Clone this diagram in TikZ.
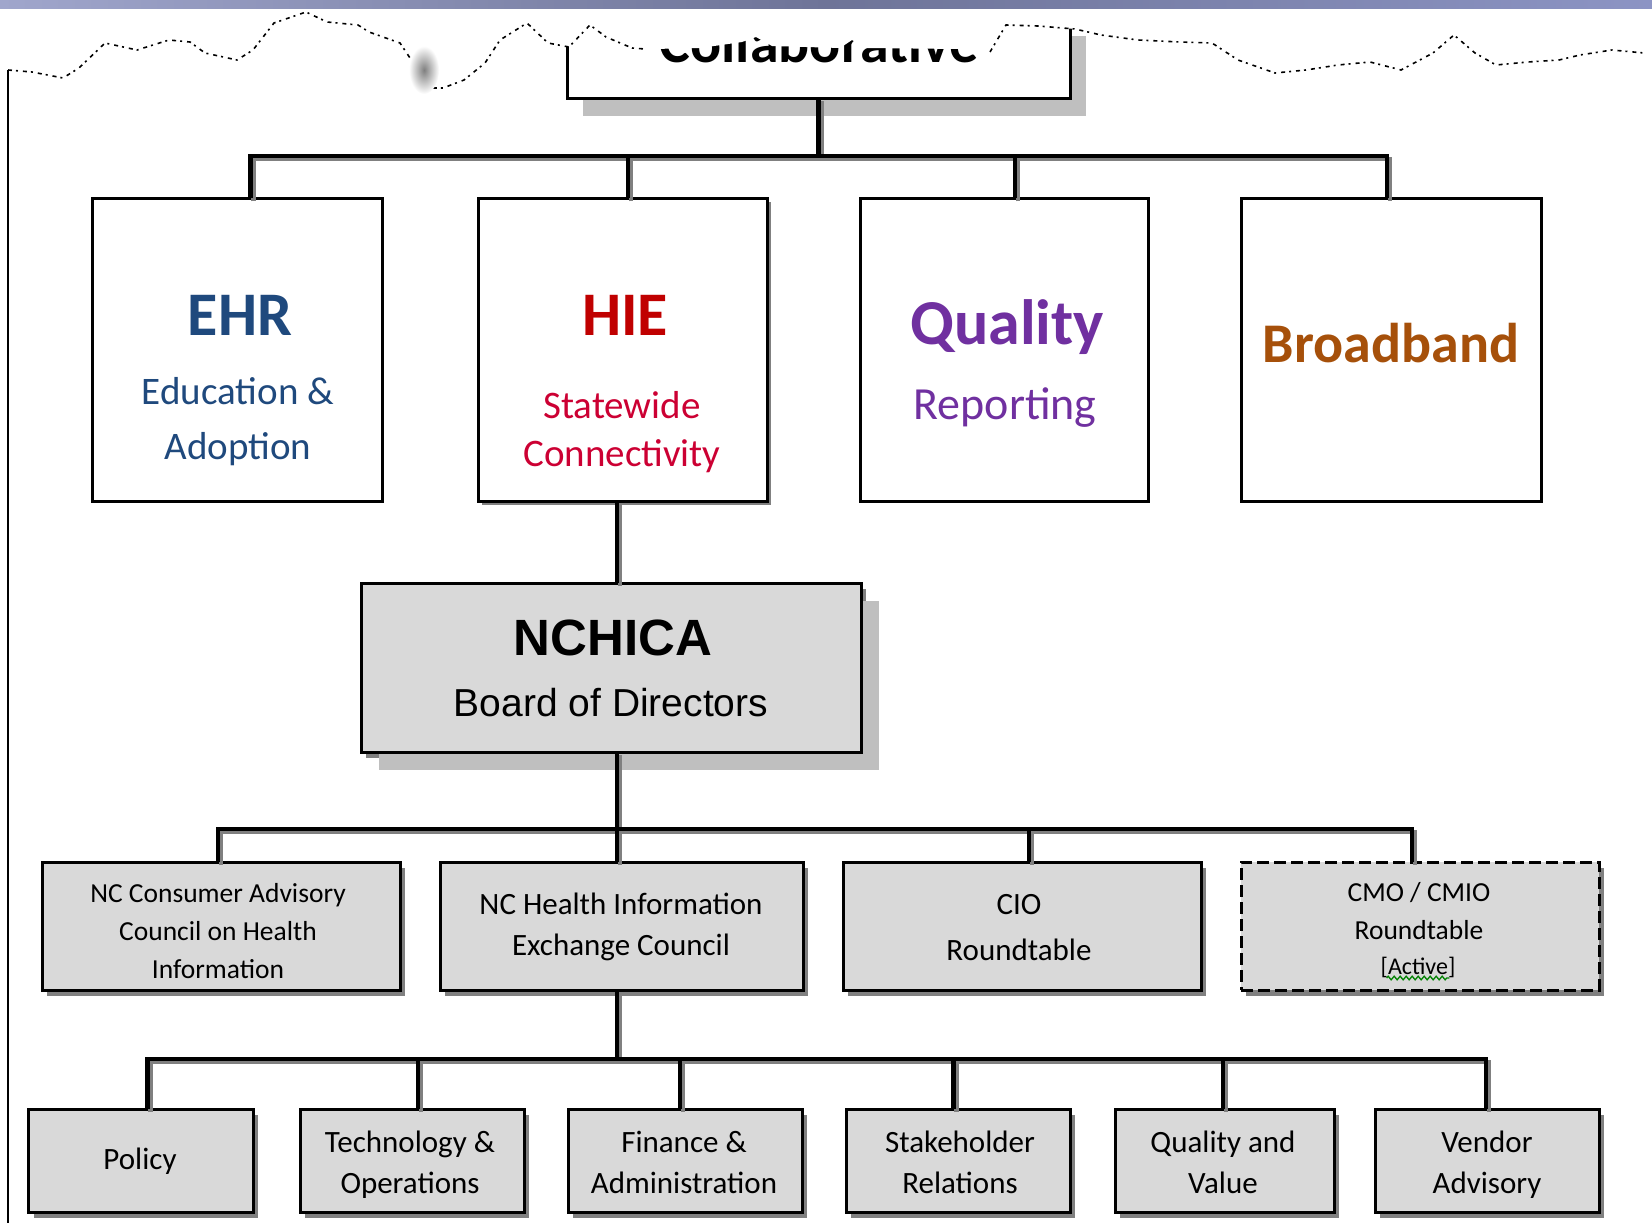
\documentclass[tikz,border=0pt]{standalone}
\usepackage{fontspec}
\setmainfont{Carlito}
\newfontfamily\arialfont{Liberation Sans}
\usetikzlibrary{shadows,decorations.pathmorphing}

\definecolor{ehrblue}{RGB}{31,73,125}
\definecolor{hiered}{RGB}{192,0,0}
\definecolor{hiesub}{RGB}{204,0,51}
\definecolor{qualpurple}{RGB}{112,48,160}
\definecolor{bandbrown}{RGB}{166,80,10}
\definecolor{boxgray}{RGB}{217,217,217}
\definecolor{shadowdark}{RGB}{128,128,128}
\definecolor{shadowlight}{RGB}{191,191,191}
\definecolor{grammargreen}{RGB}{0,128,0}
\definecolor{bandleft}{RGB}{160,166,204}
\definecolor{bandmid}{RGB}{110,116,152}
\definecolor{bandright}{RGB}{140,148,196}

\tikzset{
  tierbox/.style={draw=black, line width=3pt, fill=white, inner sep=0pt, outer sep=0pt},
  graybox/.style={draw=black, line width=3pt, fill=boxgray, inner sep=0pt, outer sep=0pt,
    drop shadow={shadow xshift=5pt, shadow yshift=-6pt, fill=shadowdark, opacity=1}},
  bigshadow/.style={drop shadow={shadow xshift=18pt, shadow yshift=-18pt, fill=shadowlight, opacity=1}},
  lbl/.style={anchor=base, inner sep=0pt, outer sep=0pt},
  conn/.style={line width=4.5pt, line join=miter, draw=black},
  connshade/.style={line width=4.5pt, line join=miter, draw=shadowdark,
    transform canvas={xshift=3pt, yshift=-3pt}},
  torn/.style={line width=1.6pt, draw=black, dash pattern=on 4pt off 4pt on 2pt off 5pt},
}

\newcommand{\fsz}[1]{\fontsize{#1}{#1}\selectfont}

\begin{document}
\begin{tikzpicture}[x=1pt,y=-1pt]
\useasboundingbox (0,0) rectangle (1652,1223);

% ---------- top governing box (cut by torn edge) ----------
\node[tierbox, minimum width=503pt, minimum height=80pt,
  drop shadow={shadow xshift=16pt, shadow yshift=-18pt, fill=shadowlight, opacity=1}]
  (topbox) at (818.5,58) {};
\node[lbl, font=\fsz{58}\bfseries] (topT) at (819,63) {Collaborative};

% ---------- torn paper edge: white above the wavy line ----------
\fill[white] (0,9) -- (0,70) -- (8,70) -- (32,72) -- (63,78) -- (79,68) -- (105,43)
  -- (137,50) -- (169,40) -- (190,42) -- (205,53) -- (237,60) -- (253,50) -- (274,23)
  -- (306,12) -- (327,22) -- (358,25) -- (369,32) -- (400,43) -- (416,67) -- (427,88)
  -- (443,88) -- (464,80) -- (485,63) -- (500,40) -- (527,23) -- (548,43) -- (569,47)
  -- (590,25) -- (606,37) -- (632,48) -- (653,49) -- (700,48) -- (742,42) -- (756,37)
  -- (772,46) -- (840,48) -- (852,40) -- (866,48) -- (960,49) -- (990,52) -- (1006,25)
  -- (1038,26) -- (1075,29) -- (1101,35) -- (1138,40) -- (1180,42) -- (1212,43) -- (1238,60)
  -- (1275,73) -- (1306,70) -- (1338,65) -- (1370,62) -- (1401,70) -- (1433,53)
  -- (1454,35) -- (1475,53) -- (1496,65) -- (1528,62) -- (1559,60) -- (1580,55)
  -- (1612,50) -- (1652,53) -- (1652,9) -- cycle;
\draw[torn] (8,70) -- (32,72) -- (63,78) -- (79,68) -- (105,43)
  -- (137,50) -- (169,40) -- (190,42) -- (205,53) -- (237,60) -- (253,50) -- (274,23)
  -- (306,12) -- (327,22) -- (358,25) -- (369,32) -- (400,43) -- (416,67) -- (427,88)
  -- (443,88) -- (464,80) -- (485,63) -- (500,40) -- (527,23) -- (548,43) -- (569,47)
  -- (590,25) -- (606,37) -- (632,48) -- (645,49);
\draw[torn] (990,52) -- (1006,25) -- (1038,26)
  -- (1075,29) -- (1101,35) -- (1138,40) -- (1180,42) -- (1212,43) -- (1238,60)
  -- (1275,73) -- (1306,70) -- (1338,65) -- (1370,62) -- (1401,70) -- (1433,53)
  -- (1454,35) -- (1475,53) -- (1496,65) -- (1528,62) -- (1559,60) -- (1580,55)
  -- (1612,50) -- (1644,53);
\shade[inner color=black!50, outer color=white] (424,70) ellipse (15pt and 24pt);

% window band along the top
\shade[left color=bandleft, right color=bandright, middle color=bandmid] (0,0) rectangle (1652,9);

% left page edge
\draw[line width=2pt] (8.4,70) -- (8.4,1223);

% ---------- first tier ----------
\node[tierbox, minimum width=290pt, minimum height=303pt] (ehr) at (237.6,349.8) {};
\node[tierbox, minimum width=289pt, minimum height=303pt,
  drop shadow={shadow xshift=4pt, shadow yshift=-4pt, fill=shadowdark, opacity=1}]
  (hie) at (622.5,349.8) {};
\node[tierbox, minimum width=288pt, minimum height=303pt] (qual) at (1004,349.8) {};
\node[tierbox, minimum width=300pt, minimum height=303pt] (bro) at (1391,349.8) {};

\node[lbl, text=ehrblue, font=\fsz{62}\bfseries] (ehrT1) at (240,335) {EHR};
\node[lbl, text=ehrblue, font=\fsz{39}] (ehrT2) at (238,404.5) {Education \&};
\node[lbl, text=ehrblue, font=\fsz{39}] (ehrT3) at (238,459) {Adoption};

\node[lbl, text=hiered, font=\fsz{62}\bfseries] (hieT1) at (625,335) {HIE};
\node[lbl, text=hiesub, font=\fsz{39}] (hieT2) at (622,418) {Statewide};
\node[lbl, text=hiesub, font=\fsz{39}] (hieT3) at (622,466) {Connectivity};

\node[lbl, text=qualpurple, font=\fsz{64}\bfseries] (qualT1) at (1007,344.5) {Quality};
\node[lbl, text=qualpurple, font=\fsz{46}] (qualT2) at (1005,419) {Reporting};

\node[lbl, text=bandbrown, font=\fsz{56}\bfseries] (broT) at (1391,362.5) {Broadband};

% ---------- NCHICA board ----------
\node[graybox, bigshadow, minimum width=500pt, minimum height=169pt] (board) at (611,667.5) {};
\node[lbl, font=\arialfont\fsz{51}\bfseries] (boardT1) at (613,655) {NCHICA};
\node[lbl, font=\arialfont\fsz{39}] (boardT2) at (611,716.5) {Board of Directors};

% ---------- second tier ----------
\node[graybox, minimum width=358pt, minimum height=128pt] (cons) at (221,926) {};
\node[graybox, minimum width=363pt, minimum height=128pt] (hiec) at (621.5,926) {};
\node[graybox, minimum width=358pt, minimum height=128pt] (cio) at (1022,926) {};
\node[graybox, minimum width=358pt, minimum height=128pt, dash pattern=on 12pt off 5pt] (cmo) at (1420,926) {};

\node[lbl, font=\fsz{27.5}] (consT1) at (218,902) {NC Consumer Advisory};
\node[lbl, font=\fsz{27.5}] (consT2) at (218,940) {Council on Health};
\node[lbl, font=\fsz{27.5}] (consT3) at (218,978) {Information};

\node[lbl, font=\fsz{31}] (hiecT1) at (621,914.5) {NC Health Information};
\node[lbl, font=\fsz{31}] (hiecT2) at (621,955.6) {Exchange Council};

\node[lbl, font=\fsz{31}] (cioT1) at (1019,914.5) {CIO};
\node[lbl, font=\fsz{31}] (cioT2) at (1019,960) {Roundtable};

\node[lbl, font=\fsz{27.5}] (cmoT1) at (1419,901) {CMO / CMIO};
\node[lbl, font=\fsz{27.5}] (cmoT2) at (1419,939) {Roundtable};
\node[lbl, font=\fsz{24}] (cmoT3) at (1418,974) {[Active]};
\draw[grammargreen, line width=1.3pt, decorate,
  decoration={zigzag, segment length=6pt, amplitude=1.8pt}]
  ([yshift=-4pt,xshift=6pt]cmoT3.base west) -- ([yshift=-4pt,xshift=-6pt]cmoT3.base east);

% ---------- third tier ----------
\node[graybox, minimum width=224.5pt, minimum height=103pt] (pol) at (140.75,1160.5) {};
\node[graybox, minimum width=224pt, minimum height=103pt] (tech) at (412,1160.5) {};
\node[graybox, minimum width=234pt, minimum height=103pt] (fin) at (685,1160.5) {};
\node[graybox, minimum width=224pt, minimum height=103pt] (stake) at (958,1160.5) {};
\node[graybox, minimum width=219pt, minimum height=103pt] (qv) at (1224.5,1160.5) {};
\node[graybox, minimum width=224pt, minimum height=103pt] (vend) at (1487,1160.5) {};

\node[lbl, font=\fsz{31}] (polT) at (140,1169.5) {Policy};
\node[lbl, font=\fsz{31}] (techT1) at (410,1152.6) {Technology \&};
\node[lbl, font=\fsz{31}] (techT2) at (410,1193.7) {Operations};
\node[lbl, font=\fsz{31}] (finT1) at (684,1152.6) {Finance \&};
\node[lbl, font=\fsz{31}] (finT2) at (684,1193.7) {Administration};
\node[lbl, font=\fsz{31}] (stakeT1) at (960,1152.6) {Stakeholder};
\node[lbl, font=\fsz{31}] (stakeT2) at (960,1193.7) {Relations};
\node[lbl, font=\fsz{31}] (qvT1) at (1223,1152.6) {Quality and};
\node[lbl, font=\fsz{31}] (qvT2) at (1223,1193.7) {Value};
\node[lbl, font=\fsz{31}] (vendT1) at (1487,1152.6) {Vendor};
\node[lbl, font=\fsz{31}] (vendT2) at (1487,1193.7) {Advisory};

% ---------- connectors ----------
\coordinate (busA) at (0,156);
\coordinate (busB) at (0,829);
\coordinate (busC) at (0,1059);

\coordinate (ehrIn) at ([xshift=13pt]ehr.north);
\coordinate (hieIn) at ([xshift=5.5pt]hie.north);
\coordinate (qualIn) at ([xshift=11pt]qual.north);
\coordinate (broIn) at ([xshift=-4pt]bro.north);
\coordinate (hieOut) at ([xshift=-5.5pt]hie.south);
\coordinate (boardIn) at ([xshift=6pt]board.north);
\coordinate (boardOut) at ([xshift=6pt]board.south);
\coordinate (consIn) at ([xshift=-3pt]cons.north);
\coordinate (hiecIn) at ([xshift=-4.5pt]hiec.north);
\coordinate (hiecOut) at ([xshift=-4.5pt]hiec.south);
\coordinate (cioIn) at ([xshift=7pt]cio.north);
\coordinate (cmoIn) at ([xshift=-8pt]cmo.north);
\coordinate (polIn) at ([xshift=6.75pt]pol.north);
\coordinate (techIn) at ([xshift=6pt]tech.north);
\coordinate (finIn) at ([xshift=-5pt]fin.north);
\coordinate (stakeIn) at ([xshift=-4.5pt]stake.north);
\coordinate (qvIn) at ([xshift=-1.5pt]qv.north);
\coordinate (vendIn) at ([xshift=-1pt]vend.north);

\foreach \sty in {connshade, conn} {
  % top box to first tier
  \draw[\sty] (topbox.south) -- (topbox.south |- busA);
  \draw[\sty] (ehrIn) -- (ehrIn |- busA) -- (broIn |- busA) -- (broIn);
  \draw[\sty] (hieIn) -- (hieIn |- busA);
  \draw[\sty] (qualIn) -- (qualIn |- busA);
  % HIE to the board
  \draw[\sty] (hieOut) -- (boardIn);
  % board to second tier
  \draw[\sty] (boardOut) -- (boardOut |- busB);
  \draw[\sty] (consIn) -- (consIn |- busB) -- (cmoIn |- busB) -- (cmoIn);
  \draw[\sty] (hiecIn) -- (hiecIn |- busB);
  \draw[\sty] (cioIn) -- (cioIn |- busB);
  % exchange council to third tier
  \draw[\sty] (hiecOut) -- (hiecOut |- busC);
  \draw[\sty] (polIn) -- (polIn |- busC) -- (vendIn |- busC) -- (vendIn);
  \draw[\sty] (techIn) -- (techIn |- busC);
  \draw[\sty] (finIn) -- (finIn |- busC);
  \draw[\sty] (stakeIn) -- (stakeIn |- busC);
  \draw[\sty] (qvIn) -- (qvIn |- busC);
}
\end{tikzpicture}
\end{document}
